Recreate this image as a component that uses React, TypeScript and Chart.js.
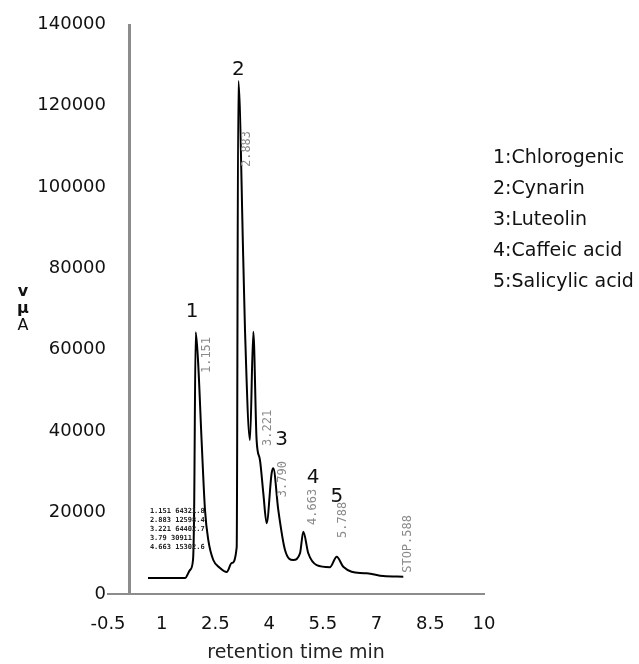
import React, { useEffect, useRef } from "react";
import { Chart, registerables } from "chart.js";

Chart.register(...registerables);

// ---- data ----
const retentionTime = [
  0.617, 1.65, 1.79, 1.874, 1.905, 1.949, 2.013, 2.117, 2.209, 2.3, 2.44, 2.628,
  2.815, 2.954, 3.094, 3.139, 3.278, 3.326, 3.465, 3.558, 3.65, 3.744, 3.837,
  3.93, 4.07, 4.116, 4.256, 4.443, 4.675, 4.862, 4.954, 5.093, 5.328, 5.699,
  5.887, 6.07, 6.537, 6.724, 7.188, 7.746,
];
const signal = [
  3900, 3900, 5900, 8350, 20000, 64300, 57500, 37100, 20600, 13300, 8350, 6400,
  5400, 7600, 11500, 126000, 82000, 64800, 37800, 64400, 37800, 32900, 24800,
  17400, 29700, 30900, 20600, 10800, 8350, 10000, 15300, 10000, 7100, 6600,
  9150, 6700, 5150, 5100, 4400, 4250,
];

const xTickValues = [-0.5, 1, 2.5, 4, 5.5, 7, 8.5, 10];
const yMin = 0;
const yMax = 140000;
const yStep = 20000;
const yAxisCrossAt = 0.1;

const xTitle = "retention time min";
const yTitleLines = ["v", "\u00b5", "A"];

const compoundLegend = [
  "1:Chlorogenic",
  "2:Cynarin",
  "3:Luteolin",
  "4:Caffeic acid",
  "5:Salicylic acid",
];

const peakIds = ["1", "2", "3", "4", "5"];
const peakIdTime = [1.85, 3.14, 4.35, 5.23, 5.89];
const peakIdSignal = [69300, 128700, 37800, 28500, 23900];

const rtLabels = ["1.151", "2.883", "3.221", "3.790", "4.663", "5.788", "STOP.588"];
const rtLabelTime = [2.27, 3.38, 3.97, 4.39, 5.21, 6.06, 7.88];
const rtLabelSignal = [58700, 109300, 40800, 28200, 21400, 18200, 12300];

const reportLines = ["1.151 64321.8", "2.883 12598.4", "3.221 64402.7", "3.79 30911", "4.663 15302.6"];
const reportTime = 0.67;
const reportSignal = [20300, 18200, 15900, 13700, 11600];

const FONT = "'DejaVu Sans', sans-serif";
const MONO = "'DejaVu Sans Mono', monospace";

const overlayPlugin = {
  id: "overlay",
  beforeDatasetsDraw(chart: any) {
    const { ctx, scales } = chart;
    const xs = scales.x;
    const ys = scales.y;
    ctx.save();
    const ax = xs.getPixelForValue(yAxisCrossAt);
    ctx.strokeStyle = "#8c8c8c";
    ctx.lineWidth = 3;
    ctx.beginPath();
    ctx.moveTo(ax, ys.getPixelForValue(yMax));
    ctx.lineTo(ax, ys.getPixelForValue(yMin));
    ctx.stroke();
    ctx.restore();
  },
  afterDatasetsDraw(chart: any) {
    const { ctx, scales, chartArea } = chart;
    const xs = scales.x;
    const ys = scales.y;
    ctx.save();

    // y title stacked letters
    ctx.fillStyle = "#111";
    ctx.textAlign = "center";
    ctx.textBaseline = "middle";
    const midY = (chartArea.top + chartArea.bottom) / 2;
    yTitleLines.forEach((t, i) => {
      ctx.font = (i < 2 ? "bold " : "") + "16px " + FONT;
      ctx.fillText(t, 23, midY + (i - 1) * 17);
    });

    // compound legend
    ctx.textAlign = "left";
    ctx.font = "19px " + FONT;
    compoundLegend.forEach((t, i) => {
      ctx.fillText(t, chartArea.right + 9, chartArea.top + 134 + i * 31);
    });

    // peak numbers
    ctx.textAlign = "center";
    ctx.font = "20px " + FONT;
    peakIds.forEach((t, i) => {
      ctx.fillText(t, xs.getPixelForValue(peakIdTime[i]), ys.getPixelForValue(peakIdSignal[i]));
    });

    // rotated retention time labels
    ctx.fillStyle = "#8a8a8a";
    ctx.font = "12px " + MONO;
    rtLabels.forEach((t, i) => {
      ctx.save();
      ctx.translate(xs.getPixelForValue(rtLabelTime[i]), ys.getPixelForValue(rtLabelSignal[i]));
      ctx.rotate(-Math.PI / 2);
      ctx.fillText(t, 0, 0);
      ctx.restore();
    });

    // tiny report table text
    ctx.fillStyle = "#222";
    ctx.textAlign = "left";
    ctx.font = "bold 7px " + MONO;
    reportLines.forEach((t, i) => {
      ctx.fillText(t, xs.getPixelForValue(reportTime), ys.getPixelForValue(reportSignal[i]));
    });

    ctx.restore();
  },
};

export default function App() {
  const canvasRef = useRef<HTMLCanvasElement | null>(null);

  useEffect(() => {
    if (!canvasRef.current) return;
    const points = retentionTime.map((t, i) => ({ x: t, y: signal[i] }));
    const chart = new Chart(canvasRef.current, {
      type: "line",
      data: {
        datasets: [
          {
            data: points,
            borderColor: "#000",
            borderWidth: 2,
            pointRadius: 0,
            fill: false,
            cubicInterpolationMode: "monotone",
          },
        ],
      },
      options: {
        animation: false,
        responsive: true,
        maintainAspectRatio: false,
        layout: { padding: { left: 0, top: 24, right: 155, bottom: 0 } },
        plugins: {
          legend: { display: false },
          tooltip: { enabled: false },
        },
        scales: {
          x: {
            type: "linear",
            min: xTickValues[0],
            max: xTickValues[xTickValues.length - 1],
            afterBuildTicks: (scale: any) => {
              scale.ticks = xTickValues.map((v) => ({ value: v }));
            },
            afterFit: (scale: any) => {
              scale.height = 70;
            },
            grid: { display: false, drawTicks: false },
            border: { display: true, color: "#8c8c8c", width: 2 },
            ticks: {
              padding: 20,
              color: "#111",
              font: { family: FONT, size: 18 },
              maxRotation: 0,
              autoSkip: false,
              callback: (v: any) => String(v),
            },
            title: {
              display: true,
              text: xTitle,
              color: "#222",
              font: { family: FONT, size: 19 },
              padding: { top: 0, bottom: 0 },
            },
          },
          y: {
            type: "linear",
            min: yMin,
            max: yMax,
            afterFit: (scale: any) => {
              scale.width = 108;
            },
            grid: { display: false, drawTicks: false },
            border: { display: false },
            ticks: {
              stepSize: yStep,
              padding: 2,
              color: "#111",
              font: { family: FONT, size: 18 },
              callback: (v: any) => String(v),
            },
          },
        },
      },
      plugins: [overlayPlugin],
    } as any);
    return () => chart.destroy();
  }, []);

  return (
    <div style={{ position: "absolute", left: 0, top: 0, width: 639, height: 664, background: "#fff" }}>
      <canvas ref={canvasRef} />
    </div>
  );
}
